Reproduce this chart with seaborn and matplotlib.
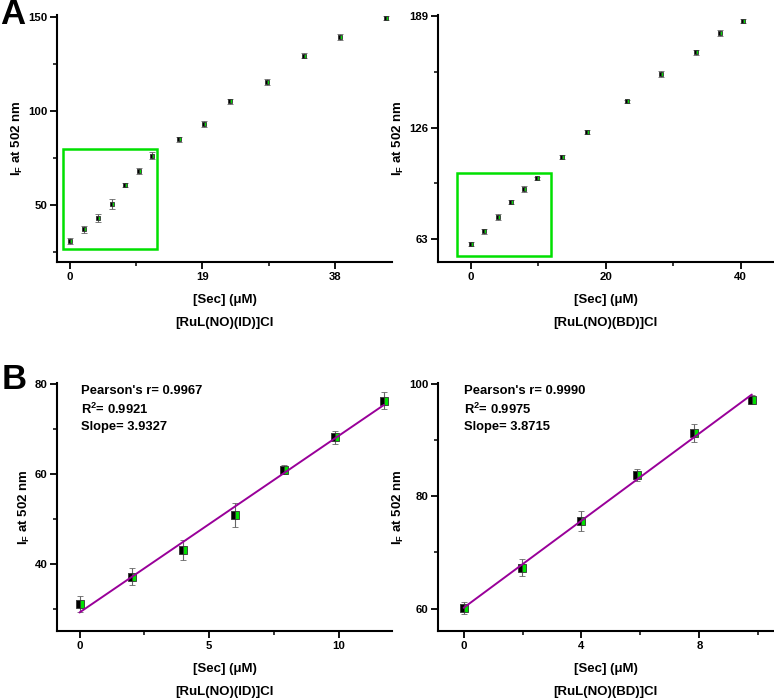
import matplotlib
matplotlib.use("Agg")
import matplotlib.pyplot as plt
import numpy as np
import seaborn as sns

# ── data ──────────────────────────────────────────────────
# Panel A: full titration
id_x = [0, 2.05, 3.97, 5.97, 7.93, 9.85, 11.76, 15.6, 19.2, 22.9, 28.3, 33.6, 38.7, 45.4]
id_y = [31.0, 37.1, 42.9, 50.6, 60.8, 68.1, 76.1, 84.9, 93.1, 105.1, 115.6, 129.4, 139.2, 149.3]
id_err = [1.6, 1.9, 2.2, 2.6, 1.0, 1.4, 1.9, 1.2, 1.5, 1.2, 1.6, 1.3, 1.6, 1.2]

bd_x = [0, 2.03, 4.0, 5.98, 7.87, 9.8, 13.56, 17.3, 23.1, 28.2, 33.4, 36.9, 40.3]
bd_y = [60.3, 67.4, 75.6, 83.9, 91.1, 97.3, 109.5, 123.6, 140.8, 156.4, 168.5, 179.3, 186.3]
bd_err = [1.0, 1.4, 1.8, 1.2, 1.6, 0.8, 1.2, 1.2, 1.0, 1.8, 1.4, 1.8, 1.2]

# Panel B: linear range
id_lin_x = [0, 2.02, 3.99, 5.99, 7.88, 9.85, 11.74]
id_lin_y = [31.0, 37.1, 43.0, 50.8, 61.0, 68.2, 76.3]
id_lin_err = [1.7, 1.9, 2.2, 2.7, 1.0, 1.5, 1.9]

bd_lin_x = [0, 1.98, 3.97, 5.9, 7.83, 9.78]
bd_lin_y = [60.1, 67.3, 75.6, 83.8, 91.3, 97.2]
bd_lin_err = [1.0, 1.45, 1.8, 1.15, 1.6, 0.8]

stats_id = ["Pearson's r= 0.9967", "R$^2$= 0.9921", "Slope= 3.9327"]
stats_bd = ["Pearson's r= 0.9990", "R$^2$= 0.9975", "Slope= 3.8715"]

names = ["[RuL(NO)(ID)]Cl", "[RuL(NO)(BD)]Cl"]
xlabel = "[Sec] (\u03bcM)"
ylabel = "I$_F$ at 502 nm"

# linear-range boxes in panel A (x0, x1, y0, y1)
box_id = (-1.05, 12.5, 26.4, 79.6)
box_bd = (-1.97, 11.9, 53.4, 100.5)

# ── style ─────────────────────────────────────────────────
sns.set_style("ticks")
plt.rcParams["font.family"] = ["Liberation Sans", "DejaVu Sans"]
plt.rcParams["font.weight"] = "bold"
plt.rcParams["mathtext.default"] = "regular"
for k in ("text.color", "axes.labelcolor", "xtick.color", "ytick.color"):
    plt.rcParams[k] = "black"

green = "#00e000"
purple = "#990099"
W, H = 774, 699

fig = plt.figure(figsize=(W / 100, H / 100), dpi=100)


def px_axes(l, r, b, t):
    return fig.add_axes([l / W, 1 - b / H, (r - l) / W, (b - t) / H])


axA1 = px_axes(57, 392, 262, 15)
axA2 = px_axes(438, 773, 262, 15)
axB1 = px_axes(57, 392, 631, 383)
axB2 = px_axes(438, 773, 631, 383)


def points(ax, x, y, err, ms):
    ax.errorbar(x, y, yerr=err, fmt="s", ms=ms, fillstyle="left",
                mfc="black", mfcalt=green, mec="#333333", mew=0.6,
                ecolor="#666666", elinewidth=0.8, capsize=2.2, capthick=0.8,
                zorder=3)


def finish(ax, xlim, ylim, xmaj, xmin, ymaj, ymin, name):
    ax.set_xlim(*xlim)
    ax.set_ylim(*ylim)
    ax.set_xticks(xmaj)
    ax.set_xticks(xmin, minor=True)
    ax.set_yticks(ymaj)
    ax.set_yticks(ymin, minor=True)
    sns.despine(ax=ax)
    for s in ("left", "bottom"):
        ax.spines[s].set_linewidth(1.5)
        ax.spines[s].set_color("black")
    ax.tick_params(which="major", length=5, width=1.3, labelsize=8.2, pad=2)
    ax.tick_params(which="minor", length=3, width=1.1)
    for lab in ax.get_xticklabels() + ax.get_yticklabels():
        lab.set_fontweight("bold")
    ax.set_xlabel(xlabel, fontsize=9.5, fontweight="bold", labelpad=9)
    ax.set_ylabel(ylabel, fontsize=9.5, fontweight="bold", labelpad=2)
    ax.annotate(name, xy=(0.5, 0), xycoords="axes fraction",
                xytext=(0, -44), textcoords="offset points",
                ha="center", va="center", fontsize=9.5, fontweight="bold")


# Panel A
points(axA1, id_x, id_y, id_err, 3.2)
points(axA2, bd_x, bd_y, bd_err, 3.2)
for ax, (x0, x1, y0, y1) in [(axA1, box_id), (axA2, box_bd)]:
    ax.add_patch(plt.Rectangle((x0, y0), x1 - x0, y1 - y0, fill=False,
                               edgecolor=green, lw=1.8, zorder=2))

finish(axA1, (-1.86, 46.2), (19.7, 151), [0, 19, 38], [9.5, 28.5],
       [50, 100, 150], [25, 75, 125], names[0])
finish(axA2, (-4.86, 44.8), (50, 189.6), [0, 20, 40], [10, 30],
       [63, 126, 189], [94.5, 157.5], names[1])

# Panel B
for ax, x, y, e, st in [(axB1, id_lin_x, id_lin_y, id_lin_err, stats_id),
                        (axB2, bd_lin_x, bd_lin_y, bd_lin_err, stats_bd)]:
    sns.regplot(x=np.array(x), y=np.array(y), ax=ax, ci=None, scatter=False,
                line_kws=dict(color=purple, lw=1.4, zorder=4))
    points(ax, x, y, e, 5.2)
    for i, s in enumerate(st):
        ax.annotate(s, xy=(0, 1), xycoords="axes fraction",
                    xytext=(17 if ax is axB1 else 19, -6 - 13 * i),
                    textcoords="offset points", ha="left", va="center",
                    fontsize=9.4, fontweight="bold")

finish(axB1, (-0.87, 12.05), (25, 80.3), [0, 5, 10], [2.5, 7.5],
       [40, 60, 80], [30, 50, 70], names[0])
finish(axB2, (-0.87, 10.5), (56, 100.2), [0, 4, 8], [2, 6, 10],
       [60, 80, 100], [70, 90], names[1])

fig.text(13 / W, 1 - 15 / H, "A", fontsize=25, fontweight="bold",
         ha="center", va="center")
fig.text(14 / W, 1 - 380 / H, "B", fontsize=25, fontweight="bold",
         ha="center", va="center")

fig.savefig("out.png", dpi=100)
